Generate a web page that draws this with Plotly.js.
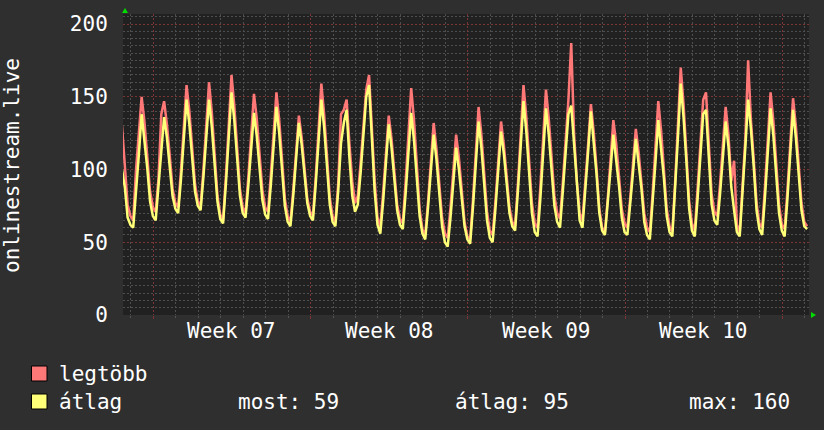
<!DOCTYPE html>
<html><head><meta charset="utf-8">
<script src="https://cdn.plot.ly/plotly-3.0.1.min.js"></script>
<style>html,body{margin:0;padding:0;background:#2f2f2f;} #chart{width:824px;height:430px;}</style>
</head><body><div id="chart"></div>
<script>
// ---- data ----
const seriesNames = ['legtöbb', 'átlag'];
const startDay = -0.045;   // days from the left edge of the window
const stepDays = 0.125;    // 3-hour samples
const maxValues = [130,
 102,76,68,65,100,125,150,133,
 110,85,74,71,94,138,147,131,
 110,87,77,74,99,129,158,140,
 116,90,78,75,100,130,160,139,
 112,82,69,65,95,130,165,144,
 117,87,74,70,95,124,152,135,
 112,86,74,71,96,125,153,134,
 109,80,68,64,86,112,137,122,
 103,80,71,68,95,128,159,138,
 112,81,68,64,90,138,141,148,
 118,92,77,82,105,132,155,165,
 130,92,67,61,84,112,137,121,
 100,76,66,63,91,123,156,134,
 105,73,59,55,78,105,132,114,
 92,67,56,53,74,99,124,108,
 88,64,54,52,79,111,143,124,
 99,71,58,55,78,106,133,117,
 97,74,64,61,90,124,158,136,
 109,77,63,60,88,121,155,135,
 110,82,70,66,91,121,148,187,
 125,92,70,65,89,117,145,126,
 101,73,60,57,80,107,134,118,
 97,73,63,60,80,104,128,112,
 92,70,60,57,84,115,147,127,
 102,73,61,57,91,130,170,145,
 114,78,63,58,87,120,148,153,
 120,83,71,68,90,117,143,124,
 92,106,62,57,86,121,175,134,
 107,77,63,60,88,121,153,133,
 106,76,62,59,86,117,149,130,
 105,77,64,61];
const avgValues = [100,
 88,67,62,60,83,110,138,120,
 101,78,68,65,87,112,136,122,
 103,82,73,70,93,121,148,131,
 110,85,75,72,95,121,148,129,
 105,78,66,63,90,121,153,134,
 110,82,70,67,89,114,139,123,
 103,79,69,66,89,116,143,125,
 102,75,64,61,82,107,132,117,
 99,77,68,65,90,119,148,129,
 104,76,64,61,85,118,132,141,
 108,82,71,76,98,125,150,158,
 120,85,62,56,78,105,131,115,
 95,72,62,59,83,111,139,120,
 96,68,56,52,74,99,124,107,
 85,61,50,47,67,91,115,100,
 82,61,52,49,74,104,133,115,
 91,65,53,50,73,99,126,111,
 92,70,61,58,85,116,147,126,
 100,70,57,54,80,111,142,124,
 101,75,64,60,85,115,138,144,
 118,85,65,60,84,112,140,121,
 97,70,58,55,75,100,124,108,
 89,67,57,55,75,98,121,106,
 87,64,55,52,77,105,134,116,
 94,68,57,54,85,122,159,136,
 106,73,58,54,80,111,138,141,
 112,76,65,62,83,108,133,116,
 88,72,57,54,82,115,148,128,
 102,72,59,55,81,112,142,123,
 98,70,58,54,80,111,141,122,
 99,72,61,59];
const weekStarts = [1.35, 8.35, 15.35, 22.35, 29.35];
const weekLabels = ['Week 07', 'Week 08', 'Week 09', 'Week 10'];
const weekLabelPos = [4.85, 11.85, 18.85, 25.85];
const yTicks = [0, 50, 100, 150, 200];
const yTickText = ['0', '50', '100', '150', '200'];
const axisTitle = 'onlinestream.live';
const statLabels = ['most: 59', 'átlag: 95', 'max: 160'];

// ---- layout helpers ----
const W = 824, H = 430, L = 123, R = 809, T = 14, B = 315;
const px = x => (x - L) / (R - L);
const py = y => (B - y) / (B - T);
const FONT = 'DejaVu Sans Mono';
const TXT = '#ffffff';
const RED = '#ff7878', YEL = '#ffff78';

const xs = maxValues.map((_, i) => startDay + i * stepDays);

const traces = [
  {x: xs, y: maxValues, name: seriesNames[0], type: 'scatter', mode: 'lines',
   line: {color: RED, width: 2.5}, hoverinfo: 'skip', showlegend: false},
  {x: xs, y: avgValues, name: seriesNames[1], type: 'scatter', mode: 'lines',
   line: {color: YEL, width: 2.5}, hoverinfo: 'skip', showlegend: false}
];

const annotations = [];
weekLabels.forEach((t, i) => annotations.push({
  text: t, x: weekLabelPos[i], xref: 'x', y: py(331), yref: 'paper',
  xanchor: 'center', yanchor: 'middle', showarrow: false,
  font: {family: FONT, size: 21, color: TXT}
}));
annotations.push({
  text: axisTitle, textangle: -90, x: px(12), xref: 'paper', y: py(166), yref: 'paper',
  xanchor: 'center', yanchor: 'middle', showarrow: false,
  font: {family: FONT, size: 21, color: TXT}
});
const legendRows = [374, 402];
annotations.push({text: seriesNames[0], x: px(57), y: py(legendRows[0]), xref: 'paper', yref: 'paper',
  xanchor: 'left', yanchor: 'middle', showarrow: false, font: {family: FONT, size: 21, color: TXT}});
annotations.push({text: seriesNames[1], x: px(57), y: py(legendRows[1]), xref: 'paper', yref: 'paper',
  xanchor: 'left', yanchor: 'middle', showarrow: false, font: {family: FONT, size: 21, color: TXT}});
const statX = [236, 453, 687];
statLabels.forEach((t, i) => annotations.push({text: t, x: px(statX[i]), y: py(legendRows[1]),
  xref: 'paper', yref: 'paper', xanchor: 'left', yanchor: 'middle', showarrow: false,
  font: {family: FONT, size: 21, color: TXT}}));

const shapes = [
  {type: 'rect', xref: 'paper', yref: 'paper', x0: px(31.5), x1: px(47), y0: py(381), y1: py(366),
   fillcolor: RED, line: {color: '#000', width: 1}},
  {type: 'rect', xref: 'paper', yref: 'paper', x0: px(31.5), x1: px(47), y0: py(409), y1: py(394),
   fillcolor: YEL, line: {color: '#000', width: 1}},
  {type: 'path', xref: 'paper', yref: 'paper',
   path: `M ${px(122)},${py(13)} L ${px(128)},${py(13)} L ${px(125)},${py(8)} Z`,
   fillcolor: '#00dd00', line: {width: 0}},
  {type: 'path', xref: 'paper', yref: 'paper',
   path: `M ${px(811)},${py(312)} L ${px(811)},${py(318)} L ${px(816)},${py(315)} Z`,
   fillcolor: '#00dd00', line: {width: 0}}
];

const gridRed = 'rgba(125,52,52,1)';
const gridGrey = '#4e4e4e';
const DASH = '2px,2px';

const layout = {
  width: W, height: H,
  margin: {l: L, r: W - R, t: T, b: H - B, pad: 0},
  paper_bgcolor: '#2f2f2f', plot_bgcolor: '#212121',
  showlegend: false,
  xaxis: {
    range: [0, 30.54], tickmode: 'array', tickvals: weekStarts, showticklabels: false,
    showgrid: true, gridcolor: gridRed, griddash: DASH, gridwidth: 1,
    zeroline: false, showline: false, ticks: 'outside', ticklen: 3, tickcolor: gridRed,
    minor: {tick0: 0.35, dtick: 1, showgrid: true, gridcolor: gridGrey, griddash: DASH,
            gridwidth: 1, ticks: 'outside', ticklen: 2, tickcolor: '#555'},
    fixedrange: true
  },
  yaxis: {
    range: [0, 206.9], tickmode: 'array', tickvals: yTicks, ticktext: yTickText,
    tickfont: {family: FONT, size: 21, color: TXT},
    showgrid: true, gridcolor: gridRed, griddash: DASH, gridwidth: 1,
    zeroline: false, showline: false, ticks: 'outside', ticklen: 10, tickcolor: 'rgba(0,0,0,0)',
    minor: {dtick: 5, showgrid: true, gridcolor: gridGrey, griddash: DASH, gridwidth: 1},
    fixedrange: true
  },
  annotations: annotations,
  shapes: shapes
};

Plotly.newPlot('chart', traces, layout, {staticPlot: true, displayModeBar: false});
</script>
</body></html>
